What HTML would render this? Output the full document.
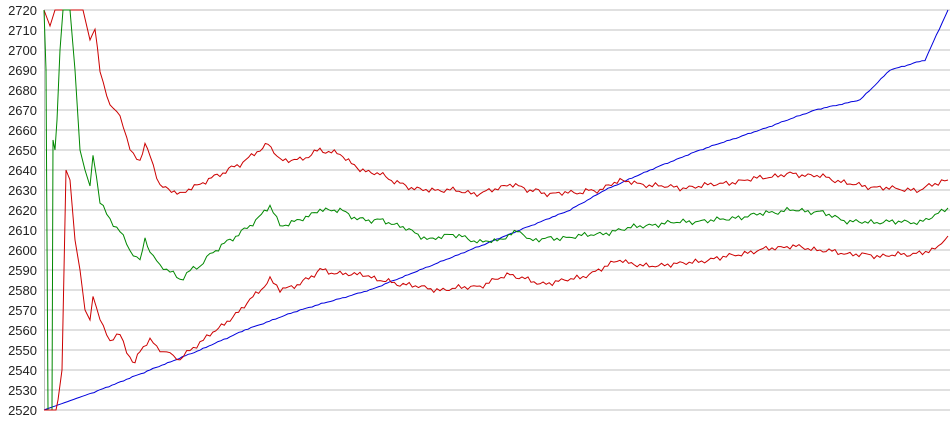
<!DOCTYPE html>
<html><head><meta charset="utf-8"><style>
html,body{margin:0;padding:0;background:#fff;width:950px;height:435px;overflow:hidden}
svg{display:block}
text{font-family:"Liberation Sans",sans-serif;font-size:13px;fill:#222}
</style></head><body>
<svg id="s" width="950" height="435" xmlns="http://www.w3.org/2000/svg"></svg>
<script>
const s=document.getElementById('s');const NS='http://www.w3.org/2000/svg';
function el(t,a,txt){const e=document.createElementNS(NS,t);for(const k in a)e.setAttribute(k,a[k]);if(txt)e.textContent=txt;s.appendChild(e);return e;}
const Y=v=>10+(2720-v)*2;
for(let v=2520;v<=2720;v+=10){el('line',{x1:44,x2:950,y1:Y(v),y2:Y(v),stroke:'#c0c0c0','stroke-width':1});el('text',{x:37,y:Y(v)+5,'text-anchor':'end'},String(v));}
el('line',{x1:44.5,x2:44.5,y1:10,y2:410,stroke:'#c0c0c0'});
function series(k,col,noise,seed){let pts=[];for(let i=0;i<k.length-1;i++){const [x0,v0]=k[i],[x1,v1]=k[i+1];const n=Math.max(1,Math.round((x1-x0)/3));for(let j=0;j<n;j++){const t=j/n;const x=x0+(x1-x0)*t;let v=v0+(v1-v0)*t;if(noise&&x>90)v+=noise*(0.7*Math.sin(x*0.9+seed)+0.6*Math.sin(x*0.37+seed*2)+0.3*Math.sin(x*1.9+seed));v=Math.min(2720,Math.max(2520,v));pts.push(x.toFixed(1)+','+Y(v).toFixed(1));}}const l=k[k.length-1];pts.push(l[0]+','+Y(l[1]));el('polyline',{points:pts.join(' '),fill:'none',stroke:col,'stroke-width':1});}
series([[44,2520],[100,2530],[150,2540],[200,2550],[245,2560],[300,2570],[370,2580],[420,2590],[470,2600],[520,2610],[570,2620],[605,2630],[650,2640],[700,2650],[760,2660],[815,2670],[860,2675],[890,2690],[925,2695],[948,2720]],'#0000dd',0.2,1);
series([[44,2720],[50,2712],[55,2720],[83,2720],[90,2705],[95,2710],[100,2690],[110,2672],[120,2668],[130,2650],[140,2645],[145,2652],[150,2648],[160,2632],[180,2628],[200,2633],[220,2638],[240,2643],[260,2650],[268,2653],[280,2645],[300,2645],[320,2650],[340,2648],[360,2640],[380,2638],[400,2633],[420,2630],[450,2630],[480,2628],[510,2633],[530,2630],[550,2628],[580,2629],[600,2630],[620,2635],[640,2633],[680,2631],[720,2633],[760,2636],[790,2638],[820,2637],[850,2633],[880,2631],[920,2630],[935,2633],[948,2635]],'#cc0000',1.1,2);
series([[44,2720],[46,2690],[48,2520],[52,2520],[53,2655],[55,2650],[57,2665],[60,2700],[63,2720],[70,2720],[75,2690],[80,2650],[85,2640],[90,2632],[93,2648],[100,2625],[110,2615],[120,2610],[130,2600],[140,2595],[145,2605],[150,2600],[160,2592],[170,2590],[180,2585],[190,2590],[200,2592],[210,2598],[230,2605],[250,2612],[270,2622],[280,2612],[300,2615],[320,2620],[340,2620],[360,2615],[380,2615],[400,2612],[430,2605],[450,2608],[480,2604],[500,2605],[520,2610],[530,2605],[560,2606],[600,2608],[640,2612],[680,2614],[720,2615],[760,2618],[790,2620],[820,2619],[850,2614],[880,2614],[920,2614],[935,2617],[948,2621]],'#008800',1.1,3);
series([[44,2520],[56,2520],[58,2525],[62,2540],[66,2640],[70,2635],[75,2605],[80,2590],[85,2570],[90,2565],[93,2578],[100,2565],[110,2555],[120,2558],[130,2546],[135,2543],[140,2550],[150,2555],[160,2550],[170,2548],[180,2545],[190,2550],[200,2553],[210,2558],[230,2565],[250,2575],[270,2585],[280,2580],[300,2583],[320,2590],[340,2588],[360,2588],[380,2585],[400,2583],[440,2580],[480,2582],[510,2588],[540,2583],[580,2586],[620,2595],[640,2592],[680,2593],[720,2596],[760,2600],[790,2602],[820,2600],[850,2598],[880,2597],[910,2598],[935,2600],[948,2607]],'#cc0000',1.1,4);
</script>
</body></html>
